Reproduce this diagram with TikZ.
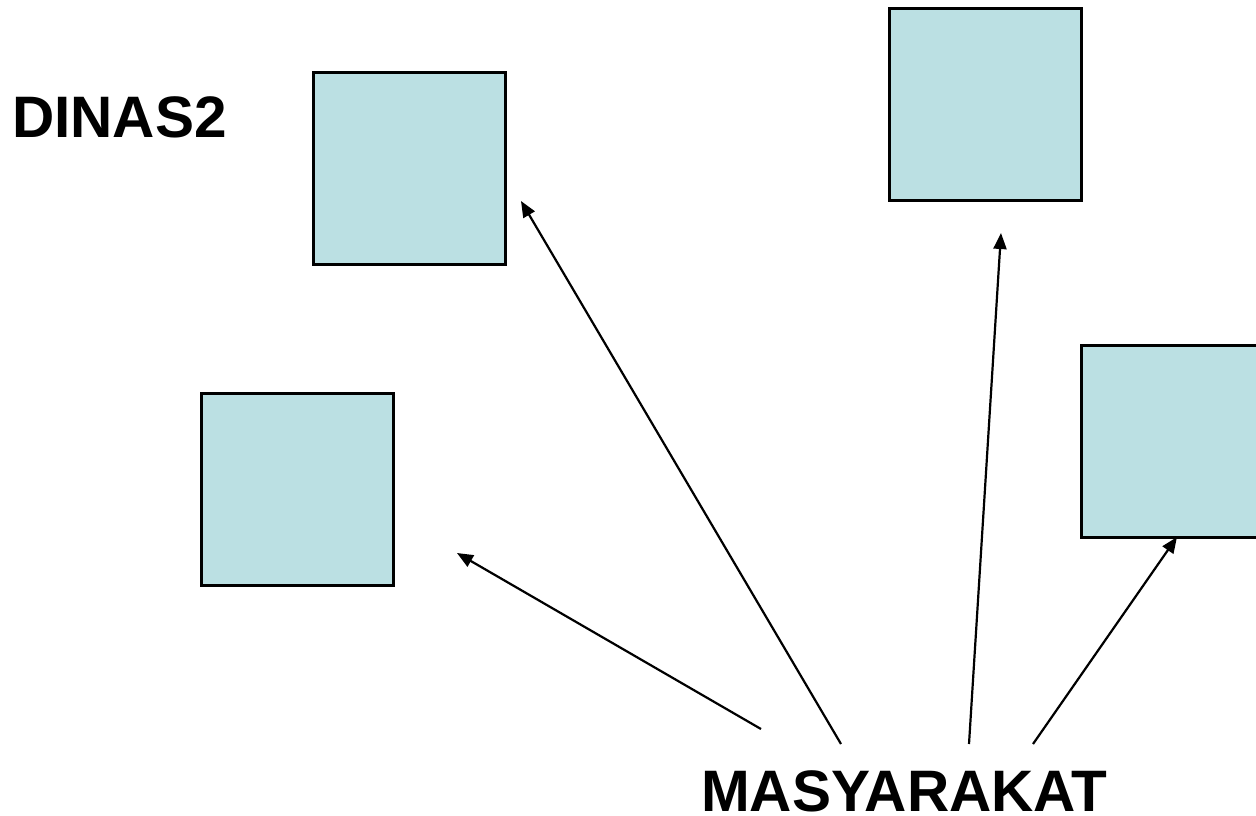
\documentclass[tikz,border=0pt]{standalone}
\usepackage{fontspec}
\setmainfont{Liberation Sans}
\usetikzlibrary{arrows.meta}
\definecolor{boxfill}{RGB}{187,224,227}
\begin{document}
\begin{tikzpicture}[x=1pt,y=-1pt,
  panel/.style={draw=black,line width=3pt,fill=boxfill,minimum width=192pt,minimum height=192pt,inner sep=0pt,outer sep=0pt},
  label/.style={font=\bfseries\fontsize{58.5}{60}\selectfont,inner sep=0pt,anchor=base west},
  link/.style={line width=2.2pt,-{Triangle[length=16pt,width=13pt]}}]
  \useasboundingbox (0,0) rectangle (1256,815);
  \clip (0,0) rectangle (1256,815);
  % the four boxes
  \node[panel] (b1) at (409,168.5) {};
  \node[panel] (b2) at (985,104.5) {};
  \node[panel] (b3) at (297,489) {};
  \node[panel] (b4) at (1177,441) {};
  % labels
  \node[label] (dinas) at (12,137) {DINAS2};
  \node[label] (masy) at (701,811) {MASYARAKAT};
  % arrow ends
  \coordinate (s1) at (761,729);
  \coordinate (s2) at (841,744);
  \coordinate (s3) at (969,744);
  \coordinate (s4) at (1033,744);
  \coordinate (t1) at (457,553);
  \coordinate (t2) at (521,201);
  \coordinate (t3) at (1001,233);
  \coordinate (t4) at (1177,537);
  \draw[link] (s1) -- (t1);
  \draw[link] (s2) -- (t2);
  \draw[link] (s3) -- (t3);
  \draw[link] (s4) -- (t4);
\end{tikzpicture}
\end{document}
